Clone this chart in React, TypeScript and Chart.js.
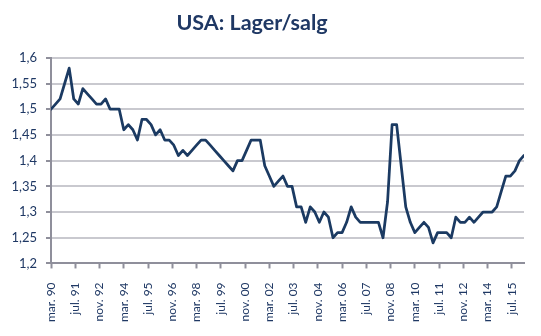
import React, { useEffect, useRef } from "react";
import { Chart, registerables } from "chart.js";

Chart.register(...registerables);

const chartTitle = "USA: Lager/salg";

// Tick labels on the x axis (one every 16 months, starting March 1990)
const xTickLabels = [
  "mar. 90", "jul. 91", "nov. 92", "mar. 94", "jul. 95", "nov. 96", "mar. 98",
  "jul. 99", "nov. 00", "mar. 02", "jul. 03", "nov. 04", "mar. 06", "jul. 07",
  "nov. 08", "mar. 10", "jul. 11", "nov. 12", "mar. 14", "jul. 15",
];

// Inventory/sales ratio, one value per quarter from March 1990
const ratioValues = [
  1.50, 1.51, 1.52, 1.55, 1.58, 1.52, 1.51, 1.54, 1.53, 1.52,
  1.51, 1.51, 1.52, 1.50, 1.50, 1.50, 1.46, 1.47, 1.46, 1.44,
  1.48, 1.48, 1.47, 1.45, 1.46, 1.44, 1.44, 1.43, 1.41, 1.42,
  1.41, 1.42, 1.43, 1.44, 1.44, 1.43, 1.42, 1.41, 1.40, 1.39,
  1.38, 1.40, 1.40, 1.42, 1.44, 1.44, 1.44, 1.39, 1.37, 1.35,
  1.36, 1.37, 1.35, 1.35, 1.31, 1.31, 1.28, 1.31, 1.30, 1.28,
  1.30, 1.29, 1.25, 1.26, 1.26, 1.28, 1.31, 1.29, 1.28, 1.28,
  1.28, 1.28, 1.28, 1.25, 1.32, 1.47, 1.47, 1.39, 1.31, 1.28,
  1.26, 1.27, 1.28, 1.27, 1.24, 1.26, 1.26, 1.26, 1.25, 1.29,
  1.28, 1.28, 1.29, 1.28, 1.29, 1.30, 1.30, 1.30, 1.31, 1.34,
  1.37, 1.37, 1.38, 1.40, 1.41,
];

const monthsPerPoint = 3;
const monthsPerTick = 16;
const yMin = 1.2;
const yMax = 1.6;
const yStep = 0.05;

const navy = "#1b3a62";
const textNavy = "#1f3864";
const gridGrey = "#c9c9cf";
const axisGrey = "#8f8f9b";

export default function App() {
  const canvasRef = useRef<HTMLCanvasElement>(null);

  useEffect(() => {
    const canvas = canvasRef.current;
    if (!canvas) return;
    const points = ratioValues.map((v, i) => ({ x: i * monthsPerPoint, y: v }));
    const lastX = (ratioValues.length - 1) * monthsPerPoint;

    const chart = new Chart(canvas, {
      type: "line",
      data: {
        datasets: [
          {
            data: points,
            borderColor: navy,
            borderWidth: 2.75,
            pointRadius: 0,
            tension: 0,
            fill: false,
            borderJoinStyle: "round",
            borderCapStyle: "round",
          },
        ],
      },
      options: {
        animation: false,
        responsive: false,
        layout: { padding: { left: 0, right: 17, top: 0, bottom: 0 } },
        plugins: {
          legend: { display: false },
          tooltip: { enabled: false },
          title: {
            display: true,
            text: chartTitle,
            color: textNavy,
            font: { family: "Lato", size: 21.5, weight: "bold", lineHeight: 1.2 },
            padding: { top: 10, bottom: 22 },
          },
        },
        scales: {
          x: {
            type: "linear",
            min: 0,
            max: lastX,
            afterBuildTicks: (scale: any) => {
              scale.ticks = scale.ticks.filter((t: any) => t.value % monthsPerTick === 0);
            },
            ticks: {
              stepSize: monthsPerTick,
              includeBounds: false,
              autoSkip: false,
              minRotation: 90,
              maxRotation: 90,
              padding: 14,
              color: textNavy,
              font: { family: "Lato", size: 12 },
              callback: (value: any) => {
                const idx = Math.round(Number(value) / monthsPerTick);
                return xTickLabels[idx] ?? "";
              },
            },
            grid: {
              drawOnChartArea: false,
              drawTicks: true,
              tickLength: 5,
              tickColor: axisGrey,
              tickWidth: 2,
            },
            border: { display: true, color: axisGrey, width: 2 },
          },
          y: {
            min: yMin,
            max: yMax,
            afterFit: (scale: any) => {
              scale.width = 71;
            },
            ticks: {
              stepSize: yStep,
              padding: 9,
              color: textNavy,
              font: { family: "Lato", size: 13 },
              callback: (value: any) =>
                String(Number(Number(value).toFixed(2))).replace(".", ","),
            },
            grid: {
              color: gridGrey,
              lineWidth: 2,
              drawTicks: true,
              tickLength: 5,
              tickColor: axisGrey,
              tickWidth: 2,
            },
            border: { display: true, color: axisGrey, width: 2 },
          },
        },
      },
    });
    return () => chart.destroy();
  }, []);

  return (
    <div style={{ position: "fixed", left: -20, top: 0, width: 561, height: 336, background: "#fff" }}>
      <canvas ref={canvasRef} width={561} height={336} style={{ width: 561, height: 336 }} />
    </div>
  );
}
